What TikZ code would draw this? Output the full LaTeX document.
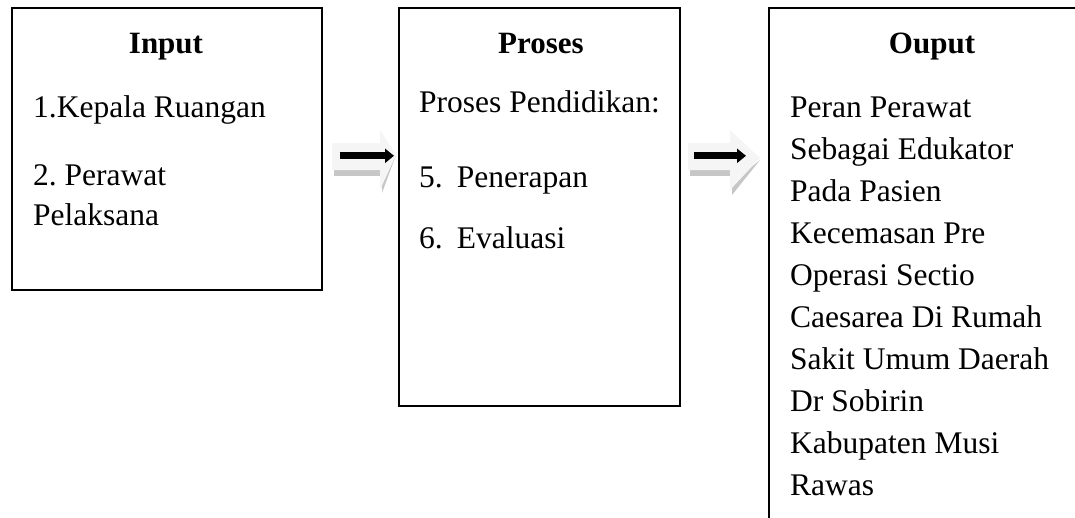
\documentclass[tikz,border=0pt]{standalone}
\usepackage{fontspec}
\setmainfont{Liberation Serif}
\usetikzlibrary{calc,arrows.meta}
\frenchspacing
\tikzset{
  box/.style={draw=black, line width=1.6pt, rectangle, inner sep=0pt, anchor=north west},
  ttl/.style={font=\fontsize{31}{42}\selectfont\bfseries, inner sep=0pt, anchor=base},
  txt/.style={font=\fontsize{31.5}{42}\selectfont\frenchspacing, inner sep=0pt, anchor=base west, align=left},
  blk/.style={fill=gray!8, draw=none},
  shd/.style={fill=gray!45, draw=none},
  bar/.style={draw=black, line width=7pt, -{Triangle[length=9pt,width=14pt]}}
}
\begin{document}
\begin{tikzpicture}[x=1pt,y=-1pt]
\useasboundingbox (0,0) rectangle (1075,517);
\begin{scope}
\clip (0,0) rectangle (1075,517);
% boxes
\node[box, minimum width=310pt, minimum height=282pt] (in) at (11,7) {};
\node[box, minimum width=281pt, minimum height=398pt] (pr) at (398,7) {};
\node[box, minimum width=330pt, minimum height=540pt] (out) at (768,7) {};
% titles
\node[ttl] (tin) at (166,53) {Input};
\node[ttl] (tpr) at (541,53) {Proses};
\node[ttl] (tout) at (932,53) {Ouput};
% input text
\node[txt] (i1) at (33,117) {1.Kepala Ruangan};
\node[txt] (i2) at (33,185) {2. Perawat};
\node[txt] (i3) at (33,225) {Pelaksana};
% process text
\node[txt] (p1) at (419,112) {Proses Pendidikan:};
\node[txt] (p2) at (419,187) {5.\hspace{0.45em}Penerapan};
\node[txt] (p3) at (419,248) {6.\hspace{0.45em}Evaluasi};
% output text
\foreach \t [count=\k from 0] in {Peran Perawat,Sebagai Edukator,Pada Pasien,Kecemasan Pre,Operasi Sectio,Caesarea Di Rumah,Sakit Umum Daerah,Dr Sobirin,Kabupaten Musi,Rawas}
  \node[txt] (o\k) at (790,{117+\k*42}) {\t};
% block arrow 1
\fill[shd] (334,166) -- (382,166) -- (382,176) -- (334,176) -- cycle;
\fill[shd] (396,155) -- (382,193) -- (382,183) -- cycle;
\fill[blk] (332,143) -- (380,143) -- (380,130) -- (396,155) -- (380,190) -- (380,170) -- (332,170) -- cycle;
% block arrow 2
\fill[shd] (690,166) -- (732,166) -- (732,176) -- (690,176) -- cycle;
\fill[shd] (760,160) -- (732,195) -- (732,183) -- cycle;
\fill[blk] (688,143) -- (730,143) -- (730,130) -- (760,158) -- (730,190) -- (730,170) -- (688,170) -- cycle;
% black connectors
\draw[bar] ($(in.east)+(17,7)$) coordinate (a1s) -- ($(pr.west |- in.east)+(-4,7)$) coordinate (a1e);
\draw[bar] ($(pr.east |- in.east)+(13,7)$) coordinate (a2s) -- ($(out.west |- in.east)+(-22,7)$) coordinate (a2e);
\end{scope}
\end{tikzpicture}
\end{document}
